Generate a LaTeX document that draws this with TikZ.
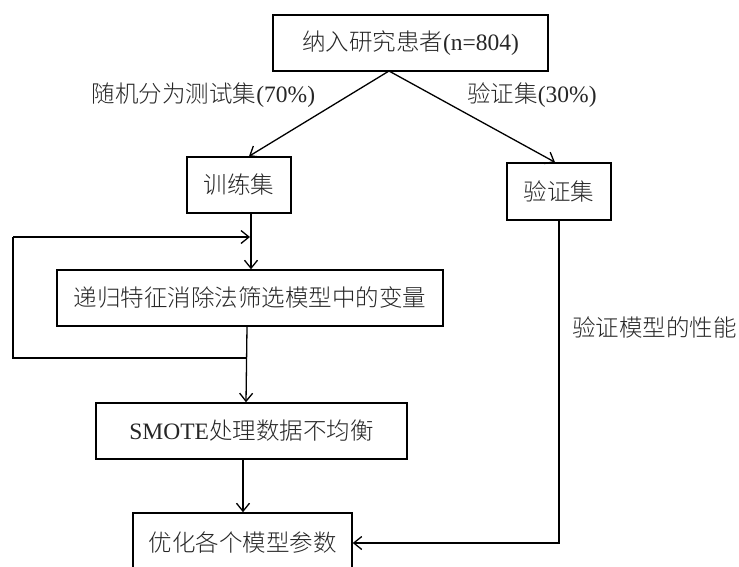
\documentclass[tikz,border=0pt]{standalone}
\usepackage{fontspec}
\setmainfont{Liberation Serif}
\newfontfamily\cjk{Noto Sans CJK SC Light}
\usetikzlibrary{arrows.meta}
\begin{document}
\begin{tikzpicture}[x=1pt,y=-1pt,
  every node/.style={font=\fontsize{23.5}{28}\selectfont, text=black!85, inner sep=0pt},
  box/.style={draw=black, line width=1.5pt, fill=white},
  conn/.style={draw=black, line width=1.3pt},
  arr/.style={conn, -{Straight Barb[length=8pt,width=13pt]}}]
\useasboundingbox (0,0) rectangle (739,566);
\node[box, minimum width=275pt, minimum height=56pt] (top) at (410.5,43) {{\cjk 纳入研究患者}(n=804)};
\node[box, minimum width=104pt, minimum height=56pt] (train) at (239,185) {\cjk 训练集};
\node[box, minimum width=104pt, minimum height=57pt] (valid) at (559,191.5) {\cjk 验证集};
\node[box, minimum width=386pt, minimum height=56pt] (rfe) at (250,298) {\cjk 递归特征消除法筛选模型中的变量};
\node[box, minimum width=311pt, minimum height=56pt] (smote) at (251.5,431) {SMOTE{\cjk 处理数据不均衡}};
\node[box, minimum width=219pt, minimum height=60pt] (opt) at (242.5,543) {\cjk 优化各个模型参数};
\node (l1) at (203.5,95) {{\cjk 随机分为测试集}(70\%)};
\node (l2) at (532,95) {{\cjk 验证集}(30\%)};
\node[anchor=west] (l3) at (572,327) {\cjk 验证模型的性能};
\coordinate (apex) at (389,71);
\coordinate (fb1) at (247,358);
\coordinate (fb2) at (13,358);
\coordinate (fb3) at (13,237);
\coordinate (fb4) at (250,237);
\draw[arr] (apex) -- ([xshift=10pt]train.north);
\draw[arr] (apex) -- ([xshift=-4pt]valid.north);
\draw[arr] ([xshift=12pt]train.south) -- ([xshift=1pt]rfe.north);
\draw[conn] (fb1) -- (fb2) -- (fb3);
\draw[arr] (fb3) -- (fb4);
\draw[arr] ([xshift=-3pt]rfe.south) -- ([xshift=-5.5pt]smote.north);
\draw[arr] ([xshift=-8.5pt]smote.south) -- ([xshift=0.5pt]opt.north);
\draw[arr] (valid.south) |- (opt.east);
\end{tikzpicture}
\end{document}
